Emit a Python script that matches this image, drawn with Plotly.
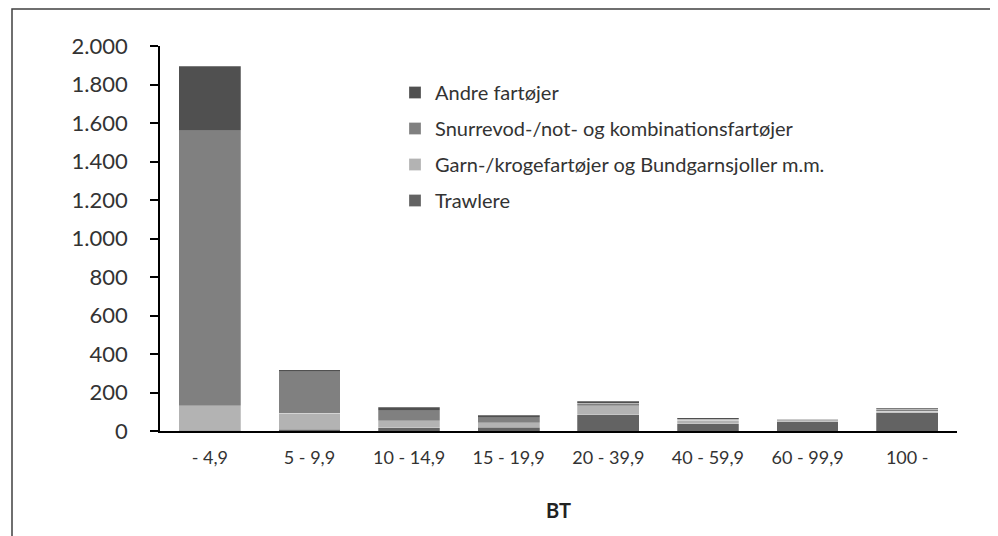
import plotly.graph_objects as go

categories = ["- 4,9", "5 - 9,9", "10 - 14,9", "15 - 19,9", "20 - 39,9", "40 - 59,9", "60 - 99,9", "100 -"]
trawlere = [5, 8, 17, 20, 85, 38, 48, 95]
garn = [125, 85, 35, 22, 47, 17, 10, 8]
snurre = [1430, 216, 53, 26, 13, 5, 3, 9]
andre = [335, 8, 19, 15, 10, 8, 2, 5]

series = [
    ("Trawlere", trawlere, "#636363"),
    ("Garn-/krogefartøjer og Bundgarnsjoller m.m.", garn, "#b3b3b3"),
    ("Snurrevod-/not- og kombinationsfartøjer", snurre, "#808080"),
    ("Andre fartøjer", andre, "#505050"),
]

FONT = "Lato"
fig = go.Figure()
for i, (name, vals, col) in enumerate(series):
    fig.add_trace(go.Bar(
        x=categories, y=vals, name=name, legendgroup=f"g{i}",
        legendrank=len(series) - i,
        marker=dict(color=col, line=dict(color="rgba(255,255,255,0.5)", width=0.5)),
    ))

# page body has an 8px margin; figure coords = screen coords - 8
OFF = 8
W, H = 990, 528
L, T = 160 - OFF, 46 - OFF
R = W - (957 - OFF)
B = H - (431 - OFF)
pw = W - L - R
ph = H - T - B

def px_x(p):
    return (p - OFF - L) / pw

def px_y(p):
    return (H - B - (p - OFF)) / ph

fig.update_layout(
    width=W, height=H,
    barmode="stack", bargap=0.38,
    separators=",.",
    margin=dict(l=L, r=R, t=T, b=B),
    paper_bgcolor="white", plot_bgcolor="white",
    font=dict(family=FONT, color="#333333"),
    legend=dict(
        x=px_x(395), y=px_y(73), xanchor="left", yanchor="top",
        traceorder="grouped", tracegroupgap=7,
        font=dict(size=20, color="#333333"), bgcolor="rgba(0,0,0,0)",
    ),
    xaxis=dict(
        showline=True, linecolor="black", linewidth=2,
        ticks="", tickfont=dict(size=18, color="#333333"), ticklabelstandoff=9,
        title=dict(text="<b>BT</b>", font=dict(size=20, color="#222222"), standoff=37),
        showgrid=False, fixedrange=True,
    ),
    yaxis=dict(
        range=[0, 2000], dtick=200, tickformat=",d",
        showline=True, linecolor="black", linewidth=1.5,
        ticks="outside", ticklen=8, tickcolor="black", tickwidth=1.5,
        tickfont=dict(size=22, color="#333333"), ticklabelstandoff=18,
        showgrid=False, zeroline=False, fixedrange=True,
    ),
    shapes=[dict(
        type="rect", xref="paper", yref="paper",
        x0=px_x(12), x1=px_x(992), y0=px_y(545), y1=px_y(9),
        line=dict(color="#404040", width=1.5), fillcolor="rgba(0,0,0,0)", layer="below",
    )],
)

fig.write_html("out.html")
